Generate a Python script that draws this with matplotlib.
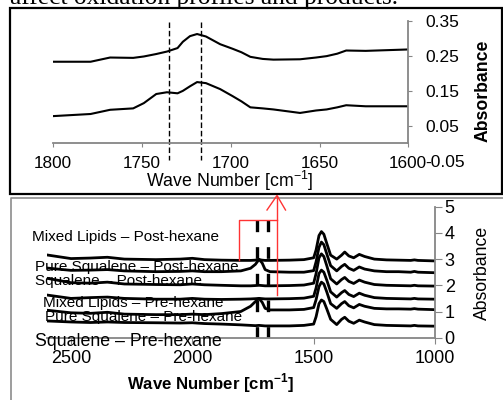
import matplotlib
matplotlib.use("Agg")
import matplotlib.pyplot as plt
from matplotlib.lines import Line2D
from matplotlib.patches import Rectangle

plt.rcParams['font.family'] = ['Liberation Sans', 'DejaVu Sans']
plt.rcParams['mathtext.fontset'] = 'custom'
plt.rcParams['mathtext.rm'] = 'Liberation Sans'
plt.rcParams['mathtext.bf'] = 'Liberation Sans:bold'
plt.rcParams['axes.unicode_minus'] = False

# ---- data: carbonyl region close-up (top panel)
zoom_wn = [1800, 1779, 1768, 1755, 1749, 1742, 1736, 1730, 1727, 1723, 1719, 1714, 1706,
           1699, 1694, 1689, 1682, 1676, 1661, 1652, 1646, 1640, 1635, 1624, 1600]
zoom_upper = [.233, .233, .245, .244, .248, .255, .262, .272, .29, .306, .312, .305, .283,
              .27, .26, .247, .241, .239, .24, .245, .249, .256, .265, .264, .268]
zoom_lower = [.078, .084, .096, .10, .115, .141, .146, .143, .15, .163, .175, .172, .155,
              .135, .12, .103, .10, .097, .087, .094, .097, .103, .109, .106, .106]
zoom_marks = [1735, 1717]

# ---- data: full spectra, stacked (bottom panel)
wn = [2600, 2500, 2420, 2350, 2280, 2150, 2050, 2000, 1950, 1880,
      1800, 1760, 1740, 1725, 1712, 1700, 1680, 1600, 1540, 1500,
      1490, 1478, 1468, 1458, 1446, 1430, 1405, 1385, 1372, 1355,
      1335, 1312, 1290, 1250, 1200, 1150, 1100, 1085, 1070, 1000]
s1 = [3.16, 3.02, 3.04, 3.07, 3.00, 2.98, 3.00, 3.03, 2.98, 2.96,
      2.95, 2.95, 2.96, 2.98, 2.96, 2.95, 2.95, 2.96, 2.98, 3.05,
      3.35, 3.90, 4.05, 3.95, 3.60, 3.15, 3.00, 3.15, 3.27, 3.12,
      3.05, 3.18, 3.10, 3.00, 2.97, 2.96, 2.95, 2.97, 2.95, 2.93]
s2 = [2.66, 2.57, 2.58, 2.60, 2.55, 2.52, 2.53, 2.55, 2.52, 2.52,
      2.55, 2.65, 2.80, 2.99, 2.85, 2.60, 2.52, 2.50, 2.50, 2.56,
      2.90, 3.45, 3.65, 3.55, 3.20, 2.75, 2.55, 2.72, 2.80, 2.65,
      2.57, 2.70, 2.62, 2.55, 2.52, 2.52, 2.50, 2.53, 2.50, 2.48]
s3 = [2.27, 2.10, 2.08, 2.12, 2.05, 2.03, 2.02, 2.05, 2.02, 2.00,
      1.98, 1.98, 1.99, 2.00, 1.99, 1.98, 1.98, 1.99, 2.01, 2.08,
      2.45, 3.05, 3.20, 3.10, 2.75, 2.25, 2.05, 2.22, 2.30, 2.15,
      2.07, 2.20, 2.12, 2.03, 2.00, 1.99, 1.98, 2.00, 1.98, 1.97]
s4 = [1.63, 1.50, 1.53, 1.55, 1.50, 1.47, 1.47, 1.50, 1.47, 1.46,
      1.47, 1.48, 1.49, 1.50, 1.49, 1.48, 1.48, 1.49, 1.51, 1.58,
      1.90, 2.45, 2.58, 2.50, 2.20, 1.75, 1.55, 1.72, 1.80, 1.65,
      1.57, 1.70, 1.62, 1.53, 1.50, 1.49, 1.48, 1.50, 1.48, 1.47]
s5 = [1.05, 0.95, 0.93, 0.97, 0.90, 0.88, 0.88, 0.90, 0.88, 0.92,
      1.00, 1.20, 1.38, 1.50, 1.35, 1.12, 1.06, 1.06, 1.08, 1.15,
      1.45, 1.95, 2.12, 2.05, 1.75, 1.30, 1.12, 1.30, 1.38, 1.22,
      1.14, 1.27, 1.20, 1.12, 1.10, 1.10, 1.09, 1.11, 1.09, 1.07]
s6 = [0.64, 0.60, 0.58, 0.60, 0.58, 0.57, 0.56, 0.57, 0.54, 0.52,
      0.49, 0.47, 0.46, 0.47, 0.46, 0.45, 0.45, 0.45, 0.47, 0.52,
      0.80, 1.30, 1.44, 1.38, 1.10, 0.70, 0.50, 0.70, 0.78, 0.63,
      0.55, 0.67, 0.60, 0.50, 0.47, 0.46, 0.45, 0.47, 0.45, 0.44]
spectra = [s1, s2, s3, s4, s5, s6]
full_marks = [1735, 1687]

series_names = ['Mixed Lipids \u2013 Post-hexane', 'Pure Squalene \u2013 Post-hexane',
                'Squalene \u2013 Post-hexane', 'Mixed Lipids \u2013 Pre-hexane',
                'Pure Squalene \u2013 Pre-hexane', 'Squalene \u2013 Pre-hexane']
name_pos = [(32, 237), (35, 267), (35, 281), (43, 303), (45, 317), (35, 341)]
name_size = [11, 11, 11, 11, 11, 12.8]

W, H = 503, 400
GRAY = '#868686'
fig = plt.figure(figsize=(W / 100, H / 100), dpi=100)


def fx(px):
    return px / W


def fy(py):
    return 1 - py / H


# page text above the figure (cut off)
fig.text(fx(10), fy(4), 'affect oxidation profiles and products.', family='Liberation Serif',
         fontsize=18.4, va='baseline', ha='left')
fig.add_artist(Line2D([fx(307), fx(307)], [fy(0), fy(8)], color='black', lw=1,
                      transform=fig.transFigure))

# frames
fig.add_artist(Rectangle((fx(10), fy(194)), fx(502) - fx(10), fy(8) - fy(194), fill=False,
                         ec='black', lw=1.6, transform=fig.transFigure))
fig.add_artist(Line2D([fx(11), fx(11), fx(503)], [fy(400), fy(197.5), fy(197.5)], color='#8c8c8c',
                      lw=1.2, transform=fig.transFigure))

# ---- top panel
ax1 = fig.add_axes([fx(53.3), fy(161), fx(408.3) - fx(53.3), fy(20.7) - fy(161)])
ax1.patch.set_alpha(0)
ax1.plot(zoom_wn, zoom_upper, color='black', lw=1.5)
ax1.plot(zoom_wn, zoom_lower, color='black', lw=1.5)
for m in zoom_marks:
    ax1.plot([m, m], [0.347, -0.047], color='black', lw=1, ls=(0, (4, 2)))
ax1.set_xlim(1800, 1600)
ax1.set_ylim(-0.05, 0.35)
for s in ['left', 'top']:
    ax1.spines[s].set_visible(False)
ax1.spines['bottom'].set_position(('data', 0))
ax1.spines['right'].set_bounds(0, 0.35)
for s in ['bottom', 'right']:
    ax1.spines[s].set_color(GRAY)
    ax1.spines[s].set_linewidth(1.3)
ax1.set_xticks([1800, 1750, 1700, 1650, 1600])
ax1.set_yticks([-0.05, 0.05, 0.15, 0.25, 0.35])
ax1.yaxis.tick_right()
ax1.tick_params(axis='x', direction='out', length=3, color=GRAY, labelsize=12.3, pad=6)
ax1.tick_params(axis='y', direction='out', length=3, color=GRAY, labelsize=12.5, pad=9)
ax1.yaxis.get_major_ticks()[0].tick2line.set_visible(False)
fig.text(fx(230), fy(181), 'Wave Number [cm$^{-1}$]', fontsize=12.8, ha='center', va='center')
fig.text(fx(483), fy(91), 'Absorbance', fontsize=12.7, fontweight='bold', rotation=90,
         ha='center', va='center')

# ---- bottom panel
ax2 = fig.add_axes([fx(46.7), fy(337.7), fx(435) - fx(46.7), fy(206.7) - fy(337.7)])
ax2.patch.set_alpha(0)
for s in spectra:
    ax2.plot(wn, s, color='black', lw=2, solid_joinstyle='round')
for m in full_marks:
    ax2.plot([m, m], [4.49, 0], color='black', lw=2.4, ls=(0, (3.5, 4.5)))
ax2.set_xlim(2600, 1000)
ax2.set_ylim(0, 5)
for s in ['left', 'top']:
    ax2.spines[s].set_visible(False)
for s in ['bottom', 'right']:
    ax2.spines[s].set_color(GRAY)
    ax2.spines[s].set_linewidth(1.3)
ax2.set_xticks([2500, 2000, 1500, 1000])
ax2.set_yticks([0, 1, 2, 3, 4, 5])
ax2.yaxis.tick_right()
ax2.tick_params(axis='x', direction='out', length=4, color=GRAY, labelsize=13, pad=5)
ax2.tick_params(axis='y', direction='out', length=5, color=GRAY, labelsize=13, pad=2)
fig.text(fx(210), fy(383), r'Wave Number [cm$^{\mathbf{-1}}$]', fontsize=12.1, fontweight='bold',
         ha='center', va='center')
fig.text(fx(482), fy(273), 'Absorbance', fontsize=12.7, rotation=90, ha='center', va='center')

for name, (px, py), size in zip(series_names, name_pos, name_size):
    fig.text(fx(px), fy(py), name, fontsize=size, ha='left', va='center')

# red callout to the close-up
red = '#ff3333'
fig.add_artist(Line2D([fx(238.5), fx(238.5), fx(277)], [fy(260), fy(220), fy(220)], color=red,
                      lw=1, transform=fig.transFigure))
fig.add_artist(Line2D([fx(277), fx(277)], [fy(295), fy(195.5)], color=red, lw=1,
                      transform=fig.transFigure))
fig.add_artist(Line2D([fx(267), fx(277), fx(285.5)], [fy(210), fy(195.5), fy(210)], color=red,
                      lw=1, transform=fig.transFigure))

fig.savefig('out.png', dpi=100)
